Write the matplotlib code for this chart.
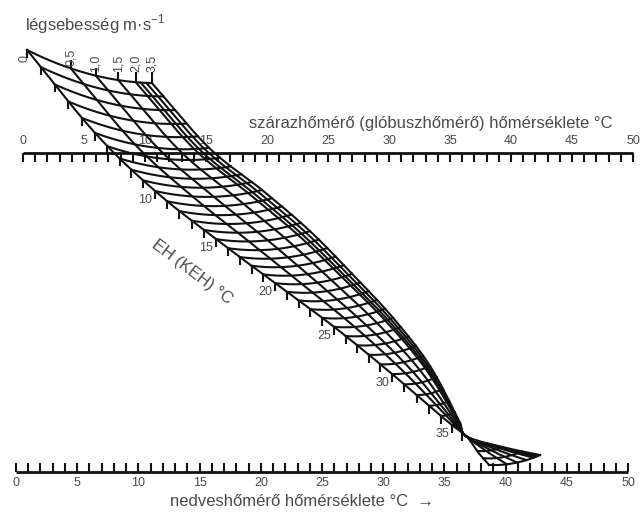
import numpy as np
import matplotlib
matplotlib.use("Agg")
import matplotlib.pyplot as plt

plt.rcParams['font.family'] = ['Liberation Sans', 'DejaVu Sans']

# ---------------- data ----------------
dry_ticks = np.arange(0, 51, 1)          # dry-bulb (globe) scale, degC
dry_labels = np.arange(0, 51, 5)
wet_ticks = np.arange(0, 51, 1)          # wet-bulb scale, degC
wet_labels = np.arange(0, 51, 5)

dry_title = "szárazhőmérő (glóbuszhőmérő) hőmérséklete °C"
wet_title = "nedveshőmérő hőmérséklete °C  →"
eh_title = "EH (KEH) °C"
vel_title = r"légsebesség m·s$^{\mathregular{-1}}$"

# effective-temperature grid: anchor EH values and node positions of the
# still-air (0 m/s) curve and the 3.5 m/s curve, in nomogram units
# (x: dry-bulb scale degC, y: 0 = wet-bulb scale, 1 = dry-bulb scale)
eh_anchor = [0, 5, 10, 15, 20, 25, 30, 35, 36.5, 38, 40]
still_x = [0.33, 5.90, 10.82, 15.82, 20.66, 25.49, 30.25, 35.16, 36.39, 37.21, 38.20]
still_y = [1.323, 1.063, 0.881, 0.730, 0.592, 0.455, 0.307, 0.147, 0.110, 0.066, 0.022]
fast_x = [10.57, 15.25, 19.59, 23.52, 26.97, 30.33, 33.36, 35.82, 36.39, 39.34, 42.38]
fast_y = [1.219, 1.016, 0.884, 0.755, 0.621, 0.483, 0.332, 0.154, 0.110, 0.078, 0.053]

velocities = [0, 0.5, 1.0, 1.5, 2.0, 2.5, 3.0, 3.5]
vel_frac = [0, 0.35, 0.55, 0.73, 0.87, 0.91, 0.955, 1.0]
vel_labels = ["0", "0,5", "1,0", "1,5", "2,0", "", "", "3,5"]

eh_lines = np.arange(0, 41, 1)
eh_tick_vals = np.arange(0, 37, 1)
eh_label_vals = [10, 15, 20, 25, 30, 35]

# wet-bulb scale placement relative to dry-bulb scale
wet_x0, wet_x50 = -0.574, 49.59
bow = 0.0092

# ---------------- helpers ----------------
def herm(t, tk, vk):
    tk = np.asarray(tk, float); vk = np.asarray(vk, float)
    t = np.asarray(t, float)
    m = np.gradient(vk, tk)
    i = np.clip(np.searchsorted(tk, t, side='right') - 1, 0, len(tk) - 2)
    h = tk[i + 1] - tk[i]
    s = (t - tk[i]) / h
    h00 = 2 * s**3 - 3 * s**2 + 1
    h10 = s**3 - 2 * s**2 + s
    h01 = -2 * s**3 + 3 * s**2
    h11 = s**3 - s**2
    return h00 * vk[i] + h10 * h * m[i] + h01 * vk[i + 1] + h11 * h * m[i + 1]

def node(e, f):
    lx, ly = herm(e, eh_anchor, still_x), herm(e, eh_anchor, still_y)
    rx, ry = herm(e, eh_anchor, fast_x), herm(e, eh_anchor, fast_y)
    x = lx + f * (rx - lx)
    y = ly + f * (ry - ly) - bow * (rx - lx) * f * (1 - f)
    return x, y

def wet_x(w):
    return wet_x0 + np.asarray(w) * (wet_x50 - wet_x0) / 50.0

# ---------------- figure ----------------
fig = plt.figure(figsize=(6.4, 5.15), dpi=100)
ax = fig.add_axes([0, 0, 1, 1])
ax.set_xlim(-1.885, 50.57)
ax.set_ylim(-0.135, 1.4796)
ax.axis('off')

line_c = '#111111'
text_c = '#4a4a4a'
tick_fs = 9
title_fs = 12
grid_lw = 1.5

# dry-bulb scale (top)
ax.plot([dry_ticks[0], dry_ticks[-1]], [1, 1], color=line_c, lw=2.0, solid_capstyle='butt')
ax.vlines(dry_ticks, 1 - 0.028, 1, color=line_c, lw=1.5)
for v in dry_labels:
    ax.annotate(str(v), (v, 1), xytext=(0, 4), textcoords='offset points',
                ha='center', va='bottom', fontsize=tick_fs, color=text_c)
ax.text(33.4, 1.091, dry_title, ha='center', va='center', fontsize=title_fs, color=text_c)

# wet-bulb scale (bottom)
ax.plot(wet_x([wet_ticks[0], wet_ticks[-1]]), [0, 0], color=line_c, lw=2.0, solid_capstyle='butt')
ax.vlines(wet_x(wet_ticks), 0, 0.028, color=line_c, lw=1.5)
for v in wet_labels:
    ax.annotate(str(v), (wet_x(v), 0), xytext=(0, -4), textcoords='offset points',
                ha='center', va='top', fontsize=tick_fs, color=text_c)
ax.text(22.9, -0.094, wet_title, ha='center', va='center', fontsize=title_fs, color=text_c)

# grid: velocity curves
e_fine = np.linspace(0, 40, 400)
for f in vel_frac:
    x, y = node(e_fine, f)
    ax.plot(x, y, color=line_c, lw=grid_lw, zorder=3)

# grid: EH lines
f_fine = np.linspace(0, 1, 40)
for e in eh_lines:
    x, y = node(np.full_like(f_fine, e), f_fine)
    ax.plot(x, y, color=line_c, lw=grid_lw, zorder=3)

# EH ticks along still-air curve
ex, ey = node(eh_tick_vals.astype(float), 0.0)
ax.vlines(ex, ey - 0.025, ey, color=line_c, lw=1.5, zorder=3)
for e in eh_label_vals:
    x, y = node(float(e), 0.0)
    ax.annotate(str(e), (x, y), xytext=(-7, -6.5), textcoords='offset points',
                ha='center', va='center', fontsize=tick_fs, color=text_c)
ax.text(13.85, 0.627, eh_title, ha='center', va='center', rotation=-37,
        fontsize=title_fs, color=text_c)

# velocity labels along the lowest EH line
label_base = 1.254
for f, lab in zip(vel_frac, vel_labels):
    x, y = node(0.0, f)
    if f == 0:
        ax.annotate(lab, (x, y), xytext=(-1.5, -6.5), textcoords='offset points',
                    ha='center', va='center', rotation=90, fontsize=tick_fs, color=text_c)
        continue
    if not lab:
        continue
    lb = max(y + 0.009, label_base)
    top = max(y + 0.025, lb)
    ax.vlines(x, y, top, color=line_c, lw=1.5, zorder=3)
    ax.text(x, lb, lab, ha='center', va='bottom', rotation=90, fontsize=tick_fs, color=text_c)

ax.text(0.16, 1.404, vel_title, ha='left', va='center', fontsize=title_fs, color=text_c)

fig.savefig('out.png', dpi=100)
